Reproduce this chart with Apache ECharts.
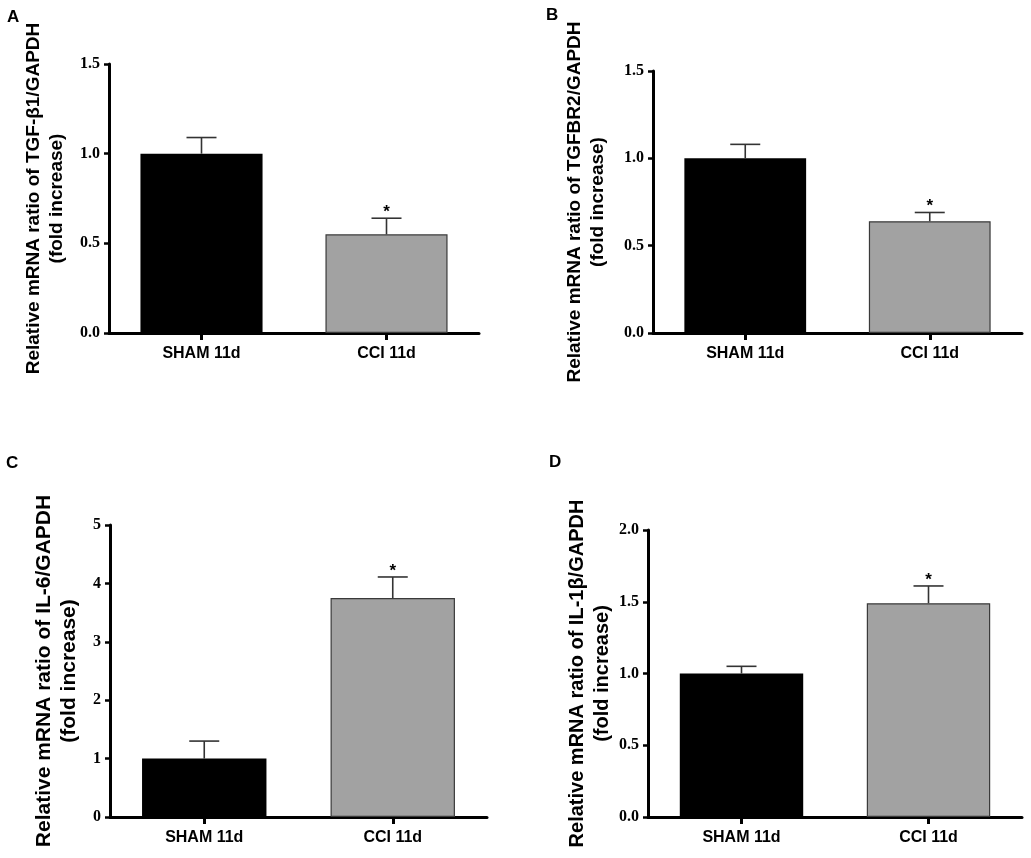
<!DOCTYPE html>
<html>
<head>
<meta charset="utf-8">
<script src="https://cdn.jsdelivr.net/npm/echarts@6/dist/echarts.min.js"></script>
<style>
html,body{margin:0;padding:0;background:#fff;}
#main{width:1031px;height:858px;}
</style>
</head>
<body>
<div id="main"></div>
<script>
// ---- data ----
var categories = ['SHAM 11d', 'CCI 11d'];
var significance = ['', '*'];

var tgfb1Mean = [1.0, 0.55];
var tgfb1Err  = [0.09, 0.09];

var tgfbr2Mean = [1.0, 0.64];
var tgfbr2Err  = [0.08, 0.05];

var il6Mean = [1.0, 3.75];
var il6Err  = [0.30, 0.36];

var il1bMean = [1.0, 1.49];
var il1bErr  = [0.05, 0.12];

var panelLetters = ['A', 'B', 'C', 'D'];
var yTitles = [
  'Relative mRNA ratio of TGF-\u03b21/GAPDH\n(fold increase)',
  'Relative mRNA ratio of TGFBR2/GAPDH\n(fold increase)',
  'Relative mRNA ratio of IL-6/GAPDH\n(fold increase)',
  'Relative mRNA ratio of IL-1\u03b2/GAPDH\n(fold increase)'
];
var yMax = [1.5, 1.5, 5, 2.0];
var yInterval = [0.5, 0.5, 1, 0.5];
var yDecimals = [1, 1, 0, 1];

var means = [tgfb1Mean, tgfbr2Mean, il6Mean, il1bMean];
var errs = [tgfb1Err, tgfbr2Err, il6Err, il1bErr];

// ---- layout ----
var grids = [
  {left: 109, top: 64, width: 370, height: 269},
  {left: 653, top: 71, width: 369, height: 262},
  {left: 110, top: 525, width: 377, height: 292},
  {left: 648, top: 530, width: 374, height: 287}
];
var letterPos = [
  {left: 2, top: 4},
  {left: 541, top: 2},
  {left: 1, top: 450},
  {left: 544, top: 449}
];
var nameGaps = [41, 44, 28, 29];
var nameSizes = [19, 19, 21, 20];
var nameLineHeights = [23, 23, 25, 25];

var sans = "'Liberation Sans', Arial, Helvetica, sans-serif";
var serif = "'Liberation Serif', 'Times New Roman', serif";

var option = {
  backgroundColor: '#ffffff',
  animation: false,
  title: [],
  grid: [],
  xAxis: [],
  yAxis: [],
  series: []
};

for (var i = 0; i < 4; i++) {
  option.title.push({
    text: panelLetters[i],
    left: letterPos[i].left,
    top: letterPos[i].top,
    textStyle: {fontFamily: sans, fontWeight: 'bold', fontSize: 17, color: '#000'}
  });
  option.grid.push({
    left: grids[i].left, top: grids[i].top,
    width: grids[i].width, height: grids[i].height,
    containLabel: false
  });
  option.xAxis.push({
    type: 'category',
    gridIndex: i,
    data: categories,
    boundaryGap: true,
    axisLine: {show: true, lineStyle: {color: '#000', width: 3}},
    axisTick: {show: true, alignWithLabel: true, length: 7, lineStyle: {color: '#000', width: 3}},
    axisLabel: {margin: 13, color: '#000', fontFamily: sans, fontWeight: 'bold', fontSize: 16},
    splitLine: {show: false}
  });
  (function (dec) {
    option.yAxis.push({
      type: 'value',
      gridIndex: i,
      min: 0,
      max: yMax[i],
      interval: yInterval[i],
      name: yTitles[i],
      nameLocation: 'middle',
      nameRotate: 90,
      nameGap: nameGaps[i],
      nameTextStyle: {color: '#000', fontFamily: sans, fontWeight: 'bold',
                      fontSize: nameSizes[i], lineHeight: nameLineHeights[i]},
      axisLine: {show: true, lineStyle: {color: '#000', width: 3}},
      axisTick: {show: true, length: 5, lineStyle: {color: '#000', width: 2.5}},
      axisLabel: {
        margin: 9, color: '#000', fontFamily: serif, fontWeight: 'bold', fontSize: 16,
        formatter: function (v) { return v.toFixed(dec); }
      },
      splitLine: {show: false}
    });
  })(yDecimals[i]);

  option.series.push({
    type: 'bar',
    xAxisIndex: i,
    yAxisIndex: i,
    barWidth: '66%',
    data: means[i].map(function (v, k) {
      return {
        value: v,
        itemStyle: k === 0
          ? {color: '#000000', borderColor: '#000000', borderWidth: 0}
          : {color: '#a2a2a2', borderColor: '#3a3a3a', borderWidth: 1.2}
      };
    }),
    z: 2
  });

  option.series.push({
    type: 'custom',
    xAxisIndex: i,
    yAxisIndex: i,
    z: 3,
    data: means[i].map(function (v, k) { return [k, v, v + errs[i][k]]; }),
    renderItem: function (params, api) {
      var x = api.value(0);
      var base = api.coord([x, api.value(1)]);
      var top = api.coord([x, api.value(2)]);
      var half = 15;
      var children = [
        {type: 'line', shape: {x1: base[0], y1: base[1], x2: top[0], y2: top[1]},
         style: {stroke: '#333', lineWidth: 1.6}},
        {type: 'line', shape: {x1: top[0] - half, y1: top[1], x2: top[0] + half, y2: top[1]},
         style: {stroke: '#333', lineWidth: 1.6}}
      ];
      var sig = significance[params.dataIndex];
      if (sig) {
        children.push({
          type: 'text',
          style: {
            text: sig, x: top[0], y: top[1] - 6,
            align: 'center', verticalAlign: 'middle',
            fill: '#000', font: 'bold 17px ' + sans
          }
        });
      }
      return {type: 'group', children: children};
    }
  });
}

var chart = echarts.init(document.getElementById('main'), null, {renderer: 'canvas'});
chart.setOption(option);
</script>
</body>
</html>
